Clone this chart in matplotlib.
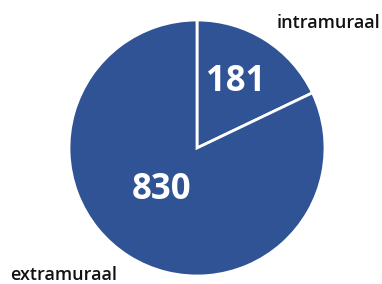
import matplotlib
matplotlib.use("Agg")
import matplotlib.pyplot as plt

categories = ["intramuraal", "extramuraal"]
values = [181, 830]

H = 284
fig = plt.figure(figsize=(3.82, 2.84), dpi=100)
ax = fig.add_axes([0, 0, 1, 1])

ax.pie(values, startangle=90, counterclock=False, center=(197, H - 148), radius=128,
       colors=["#2F5394", "#2F5394"],
       wedgeprops=dict(edgecolor="white", linewidth=2), frame=True)
ax.set_xlim(0, 382)
ax.set_ylim(0, H)
ax.axis("off")
ax.set_aspect("equal")

ax.text(236, H - 82, str(values[0]), color="white", fontsize=25, fontweight="bold",
        family="Open Sans", ha="center", va="center")
ax.text(162, H - 190, str(values[1]), color="white", fontsize=25, fontweight="bold",
        family="Open Sans", ha="center", va="center")
ax.text(328, H - 23, categories[0], color="#111111", fontsize=13, fontweight="semibold",
        family="Open Sans", ha="center", va="center")
ax.text(64, H - 275, categories[1], color="#111111", fontsize=13, fontweight="semibold",
        family="Open Sans", ha="center", va="center")

fig.savefig("out.png", dpi=100)
